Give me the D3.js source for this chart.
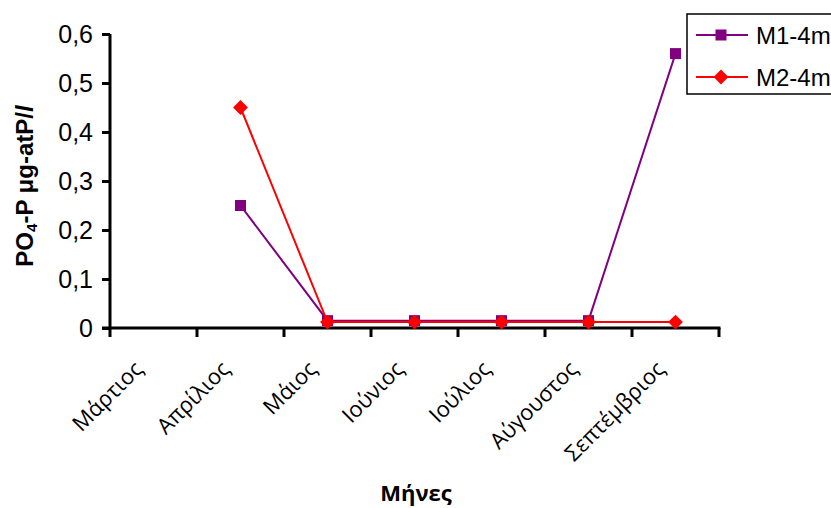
<!DOCTYPE html>
<html>
<head>
<meta charset="utf-8">
<script src="https://cdn.jsdelivr.net/npm/d3@7"></script>
<style>
  html, body { margin: 0; padding: 0; background: #fff; }
  svg { display: block; }
</style>
</head>
<body>
<svg id="chart" width="831" height="508"></svg>
<script>
// Months sampled
const months = ["Μάρτιος", "Απρίλιος", "Μάιος", "Ιούνιος", "Ιούλιος", "Αύγουστος", "Σεπτέμβριος"];
// PO4-P concentrations (μg-atP/l); null = no sample
const m1Values = [null, 0.25, 0.015, 0.015, 0.015, 0.015, 0.56];
const m2Values = [null, 0.45, 0.012, 0.012, 0.012, 0.012, 0.012];
const yTicks = [0, 0.1, 0.2, 0.3, 0.4, 0.5, 0.6];
const seriesNames = ["M1-4m", "M2-4m"];

const svg = d3.select("#chart");
const plotL = 110, plotR = 719, plotT = 34, plotB = 328;
const sans = "'Liberation Sans', Arial, sans-serif";

const x = d3.scaleBand().domain(months).range([plotL, plotR]).padding(0);
const y = d3.scaleLinear().domain([0, 0.6]).range([plotB, plotT]);
const fmt = d => d === 0 ? "0" : d3.format(".1f")(d).replace(".", ",");

// Square-on-point diamond marker
const diamond = {
  draw(ctx, size) {
    const r = Math.sqrt(size / 2);
    ctx.moveTo(0, -r); ctx.lineTo(r, 0); ctx.lineTo(0, r); ctx.lineTo(-r, 0); ctx.closePath();
  }
};

// Y axis
const yAxis = svg.append("g")
  .attr("transform", `translate(${plotL},0)`)
  .call(d3.axisLeft(y).tickValues(yTicks).tickSize(8).tickPadding(9).tickFormat(fmt));
yAxis.select(".domain").attr("stroke", "#000").attr("stroke-width", 3).attr("d", `M0,${plotT}V${plotB}`);
yAxis.selectAll(".tick line").attr("stroke", "#000").attr("stroke-width", 3);
yAxis.selectAll(".tick text")
  .attr("font-family", sans).attr("font-size", 25).attr("fill", "#000");

// X axis: ticks on category boundaries
const xAxisG = svg.append("g").attr("transform", `translate(0,${plotB})`);
xAxisG.append("line").attr("x1", plotL - 8).attr("x2", plotR + 1.5).attr("stroke", "#000").attr("stroke-width", 3);
const bounds = months.map(m => x(m)).concat([plotR]);
xAxisG.selectAll("line.tk").data(bounds).join("line")
  .attr("class", "tk")
  .attr("x1", d => d).attr("x2", d => d)
  .attr("y1", 0).attr("y2", 9)
  .attr("stroke", "#000").attr("stroke-width", 3);
xAxisG.selectAll("text").data(months).join("text")
  .attr("transform", d => `translate(${x(d) + x.bandwidth() / 2 - 15},${37}) rotate(-45)`)
  .attr("text-anchor", "end")
  .attr("dy", "0.35em")
  .attr("font-family", "'Open Sans', sans-serif")
  .attr("font-size", 22).attr("fill", "#000")
  .text(d => d);

// Axis titles
const yt = svg.append("text")
  .attr("transform", `translate(33,${186}) rotate(-90)`)
  .attr("text-anchor", "middle")
  .attr("font-family", sans)
  .attr("font-weight", "bold").attr("font-size", 24).attr("fill", "#000");
yt.append("tspan").text("PO");
yt.append("tspan").attr("font-size", 15).attr("dy", 4).text("4");
yt.append("tspan").attr("dy", -4).text("-P  μg-atP/");
yt.append("tspan").attr("font-style", "italic").text("l");

svg.append("text")
  .attr("x", 416).attr("y", 501)
  .attr("text-anchor", "middle")
  .attr("font-family", "'Open Sans', sans-serif")
  .attr("font-weight", "bold").attr("font-size", 22).attr("fill", "#000")
  .text("Μήνες");

// Series
const cx = d => x(d) + x.bandwidth() / 2;
const series = [
  { name: seriesNames[0], values: m1Values, color: "#800080", shape: d3.symbolSquare, size: 121 },
  { name: seriesNames[1], values: m2Values, color: "#ff0000", shape: diamond, size: 110 }
];
const line = d3.line().defined(d => d.v !== null).x(d => cx(d.m)).y(d => y(d.v));
series.forEach(s => {
  const pts = months.map((m, i) => ({ m, v: s.values[i] }));
  const g = svg.append("g");
  g.append("path").datum(pts).attr("d", line)
    .attr("fill", "none").attr("stroke", s.color).attr("stroke-width", 2);
  g.selectAll("path.mk").data(pts.filter(d => d.v !== null)).join("path")
    .attr("class", "mk")
    .attr("transform", d => `translate(${cx(d.m)},${y(d.v)})`)
    .attr("d", d3.symbol().type(s.shape).size(s.size))
    .attr("fill", s.color);
});

// Legend
const lg = svg.append("g");
lg.append("rect").attr("x", 687).attr("y", 14).attr("width", 160).attr("height", 80)
  .attr("fill", "#fff").attr("stroke", "#000").attr("stroke-width", 1.5);
series.forEach((s, i) => {
  const ly = 35 + i * 42;
  lg.append("line").attr("x1", 696).attr("x2", 748).attr("y1", ly).attr("y2", ly)
    .attr("stroke", s.color).attr("stroke-width", 2);
  lg.append("path").attr("transform", `translate(721,${ly})`)
    .attr("d", d3.symbol().type(s.shape).size(s.size)).attr("fill", s.color);
  lg.append("text").attr("x", 756).attr("y", ly).attr("dy", "0.36em")
    .attr("font-family", sans)
    .attr("font-size", 24).attr("fill", "#000").text(s.name);
});
</script>
</body>
</html>
